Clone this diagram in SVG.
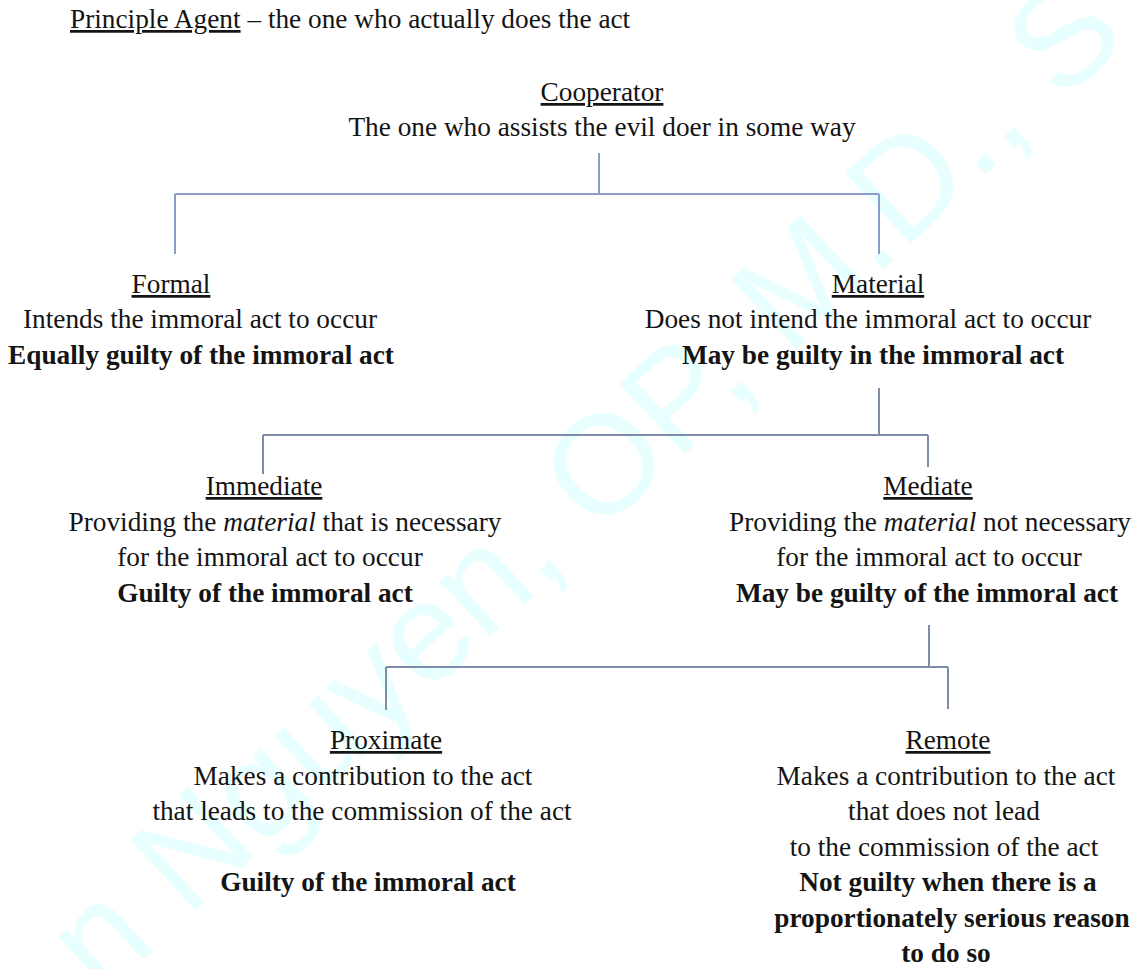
<svg xmlns="http://www.w3.org/2000/svg" width="1136" height="969" viewBox="0 0 1136 969">
<style>
  text { font-family: "Liberation Serif", "Times New Roman", serif; font-size: 27.3px; fill: #141414; }
  .c { text-anchor: middle; }
  .b { font-weight: bold; }
  .u { text-decoration: underline; }
  .i { font-style: italic; }
  .wm { font-family: "Liberation Sans", Arial, sans-serif; font-size: 140px; fill: #e8ffff; }
  .l1 { stroke: #8a9bcc; stroke-width: 2; fill: none; }
  .l2 { stroke: #7f8ca8; stroke-width: 2; fill: none; }
</style>
<rect width="1136" height="969" fill="#ffffff"/>
<g id="watermark">
  <text class="wm" transform="translate(102 998) rotate(-43)">n Nguyen, OP, M.D., S</text>
</g>
<g id="connectors">
  <path class="l1" d="M599 153 V194 M175 194 H879 M175 194 V254 M879 194 V254"/>
  <path class="l2" d="M879 388 V435 M263 435 H928 M263 435 V474 M928 435 V467"/>
  <path class="l2" d="M929 625 V667 M386 667 H948 M386 667 V710 M948 667 V709"/>
</g>
<g id="principle-agent">
  <text x="70" y="28"><tspan class="u">Principle Agent</tspan> – the one who actually does the act</text>
</g>
<g id="cooperator">
  <text class="c u" x="602" y="101">Cooperator</text>
  <text class="c" x="602" y="136">The one who assists the evil doer in some way</text>
</g>
<g id="formal">
  <text class="c u" x="171" y="293">Formal</text>
  <text class="c" x="200" y="328">Intends the immoral act to occur</text>
  <text class="c b" x="201" y="364">Equally guilty of the immoral act</text>
</g>
<g id="material">
  <text class="c u" x="878" y="293">Material</text>
  <text class="c" x="868" y="328">Does not intend the immoral act to occur</text>
  <text class="c b" x="873" y="364">May be guilty in the immoral act</text>
</g>
<g id="immediate">
  <text class="c u" x="264" y="495">Immediate</text>
  <text class="c" x="285" y="530.5">Providing the <tspan class="i">material</tspan> that is necessary</text>
  <text class="c" x="270" y="566">for the immoral act to occur</text>
  <text class="c b" x="265" y="602">Guilty of the immoral act</text>
</g>
<g id="mediate">
  <text class="c u" x="928" y="495">Mediate</text>
  <text class="c" x="930" y="530.5">Providing the <tspan class="i">material</tspan> not necessary</text>
  <text class="c" x="929" y="566">for the immoral act to occur</text>
  <text class="c b" x="927" y="602">May be guilty of the immoral act</text>
</g>
<g id="proximate">
  <text class="c u" x="386" y="749">Proximate</text>
  <text class="c" x="363" y="784.5">Makes a contribution to the act</text>
  <text class="c" x="362" y="820">that leads to the commission of the act</text>
  <text class="c b" x="368" y="891">Guilty of the immoral act</text>
</g>
<g id="remote">
  <text class="c u" x="948" y="749">Remote</text>
  <text class="c" x="946" y="784.5">Makes a contribution to the act</text>
  <text class="c" x="944" y="820">that does not lead</text>
  <text class="c" x="944" y="855.5">to the commission of the act</text>
  <text class="c b" x="948" y="891">Not guilty when there is a</text>
  <text class="c b" x="952" y="926.5">proportionately serious reason</text>
  <text class="c b" x="946" y="962">to do so</text>
</g>
</svg>
